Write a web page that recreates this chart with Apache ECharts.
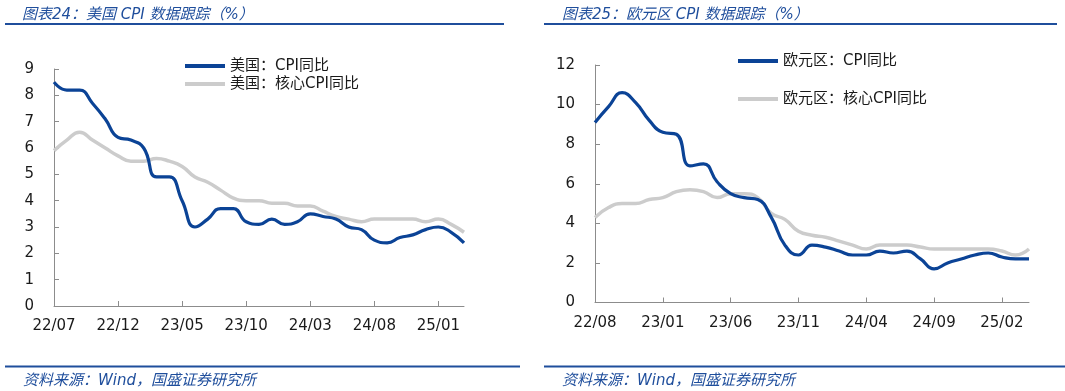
<!DOCTYPE html>
<html>
<head>
<meta charset="utf-8">
<script src="https://cdn.jsdelivr.net/npm/echarts@6/dist/echarts.min.js"></script>
<style>
html,body{margin:0;padding:0;background:#fff;}
#c{width:1065px;height:391px;}
</style>
</head>
<body>
<div id="c"></div>
<script>
// ---- US panel ----
const usMonths = ['22/07','22/08','22/09','22/10','22/11','22/12','23/01','23/02','23/03','23/04','23/05','23/06','23/07','23/08','23/09','23/10','23/11','23/12','24/01','24/02','24/03','24/04','24/05','24/06','24/07','24/08','24/09','24/10','24/11','24/12','25/01','25/02','25/03'];
const usCPI  = [8.5,8.2,8.2,7.7,7.1,6.4,6.3,6.0,4.9,4.9,4.0,3.0,3.3,3.7,3.7,3.2,3.1,3.3,3.1,3.2,3.5,3.4,3.3,3.0,2.9,2.5,2.4,2.6,2.7,2.9,3.0,2.8,2.4];
const usCore = [5.9,6.3,6.6,6.3,6.0,5.7,5.5,5.5,5.6,5.5,5.3,4.9,4.7,4.4,4.1,4.0,4.0,3.9,3.9,3.8,3.8,3.6,3.4,3.3,3.2,3.3,3.3,3.3,3.3,3.2,3.3,3.1,2.8];
// ---- Euro area panel ----
const euMonths = ['22/08','22/09','22/10','22/11','22/12','23/01','23/02','23/03','23/04','23/05','23/06','23/07','23/08','23/09','23/10','23/11','23/12','24/01','24/02','24/03','24/04','24/05','24/06','24/07','24/08','24/09','24/10','24/11','24/12','25/01','25/02','25/03','25/04'];
const euCPI  = [9.1,9.9,10.6,10.1,9.2,8.6,8.5,6.9,7.0,6.1,5.5,5.3,5.2,4.3,2.9,2.4,2.9,2.8,2.6,2.4,2.4,2.6,2.5,2.6,2.2,1.7,2.0,2.2,2.4,2.5,2.3,2.2,2.2];
const euCore = [4.3,4.8,5.0,5.0,5.2,5.3,5.6,5.7,5.6,5.3,5.5,5.5,5.3,4.5,4.2,3.6,3.4,3.3,3.1,2.9,2.7,2.9,2.9,2.9,2.8,2.7,2.7,2.7,2.7,2.7,2.6,2.4,2.7];

const usNames = ['美国：CPI同比','美国：核心CPI同比'];
const euNames = ['欧元区：CPI同比','欧元区：核心CPI同比'];
const titles = ['图表24：美国 CPI 数据跟踪（%）','图表25：欧元区 CPI 数据跟踪（%）'];
const source = '资料来源：Wind，国盛证券研究所';

const BLUE = '#0b4396';
const GRAY = '#cccccc';
const TBLUE = '#1f4e9c';
const FONT = '"DejaVu Sans","Noto Sans CJK SC",sans-serif';

function xAxis(idx, data){
  return {
    type:'category', gridIndex:idx, data:data, boundaryGap:false,
    axisLine:{lineStyle:{color:'#8c8c8c',width:1}},
    axisTick:{inside:true,length:5,interval:4,lineStyle:{color:'#8c8c8c'}},
    axisLabel:{interval:4,margin:13,fontSize:15,color:'#1a1a1a',fontFamily:FONT},
    splitLine:{show:false}
  };
}
function yAxis(idx, max, interval){
  return {
    type:'value', gridIndex:idx, min:0, max:max, interval:interval,
    axisLine:{show:true,lineStyle:{color:'#8c8c8c',width:1}},
    axisTick:{show:true,inside:true,length:5,lineStyle:{color:'#8c8c8c'}},
    axisLabel:{margin:20,fontSize:15,color:'#1a1a1a',fontFamily:FONT},
    splitLine:{show:false}
  };
}
function line(name, idx, data, color, w, z){
  return {
    name:name, type:'line', xAxisIndex:idx, yAxisIndex:idx, data:data,
    smooth:0.5, symbol:'none', z:z,
    lineStyle:{color:color,width:w}, itemStyle:{color:color}
  };
}

const chart = echarts.init(document.getElementById('c'));
chart.setOption({
  animation:false,
  backgroundColor:'#fff',
  title:[
    {text:titles[0],left:17,top:3,textStyle:{fontSize:15,fontStyle:'italic',fontWeight:'normal',color:TBLUE,fontFamily:FONT}},
    {text:titles[1],left:557,top:3,textStyle:{fontSize:15,fontStyle:'italic',fontWeight:'normal',color:TBLUE,fontFamily:FONT}},
    {text:source,left:18,top:369,textStyle:{fontSize:15,fontStyle:'italic',fontWeight:'normal',color:TBLUE,fontFamily:FONT}},
    {text:source,left:557,top:369,textStyle:{fontSize:15,fontStyle:'italic',fontWeight:'normal',color:TBLUE,fontFamily:FONT}}
  ],
  legend:[
    {data:usNames.map(n=>({name:n,icon:'rect'})),orient:'vertical',left:180,top:53,
     itemWidth:40,itemHeight:4,itemGap:2,textStyle:{fontSize:15,color:'#1a1a1a',fontFamily:FONT,lineHeight:16}},
    {data:euNames.map(n=>({name:n,icon:'rect'})),orient:'vertical',left:733,top:48,
     itemWidth:40,itemHeight:4,itemGap:22,textStyle:{fontSize:15,color:'#1a1a1a',fontFamily:FONT,lineHeight:16}}
  ],
  grid:[
    {left:54,top:69,width:410,height:237},
    {left:595,top:65,width:434,height:237.5}
  ],
  xAxis:[xAxis(0,usMonths),xAxis(1,euMonths)],
  yAxis:[yAxis(0,9,1),yAxis(1,12,2)],
  series:[
    line(usNames[1],0,usCore,GRAY,3.5,2),
    line(usNames[0],0,usCPI,BLUE,3.2,3),
    line(euNames[1],1,euCore,GRAY,3.5,2),
    line(euNames[0],1,euCPI,BLUE,3.2,3)
  ],
  graphic:[
    {type:'line',shape:{x1:5,y1:24,x2:504,y2:24},style:{stroke:TBLUE,lineWidth:2}},
    {type:'line',shape:{x1:544,y1:24,x2:1057,y2:24},style:{stroke:TBLUE,lineWidth:2}},
    {type:'line',shape:{x1:5,y1:366.5,x2:520,y2:366.5},style:{stroke:TBLUE,lineWidth:2}},
    {type:'line',shape:{x1:544,y1:366.5,x2:1065,y2:366.5},style:{stroke:TBLUE,lineWidth:2}}
  ]
});
</script>
</body>
</html>
